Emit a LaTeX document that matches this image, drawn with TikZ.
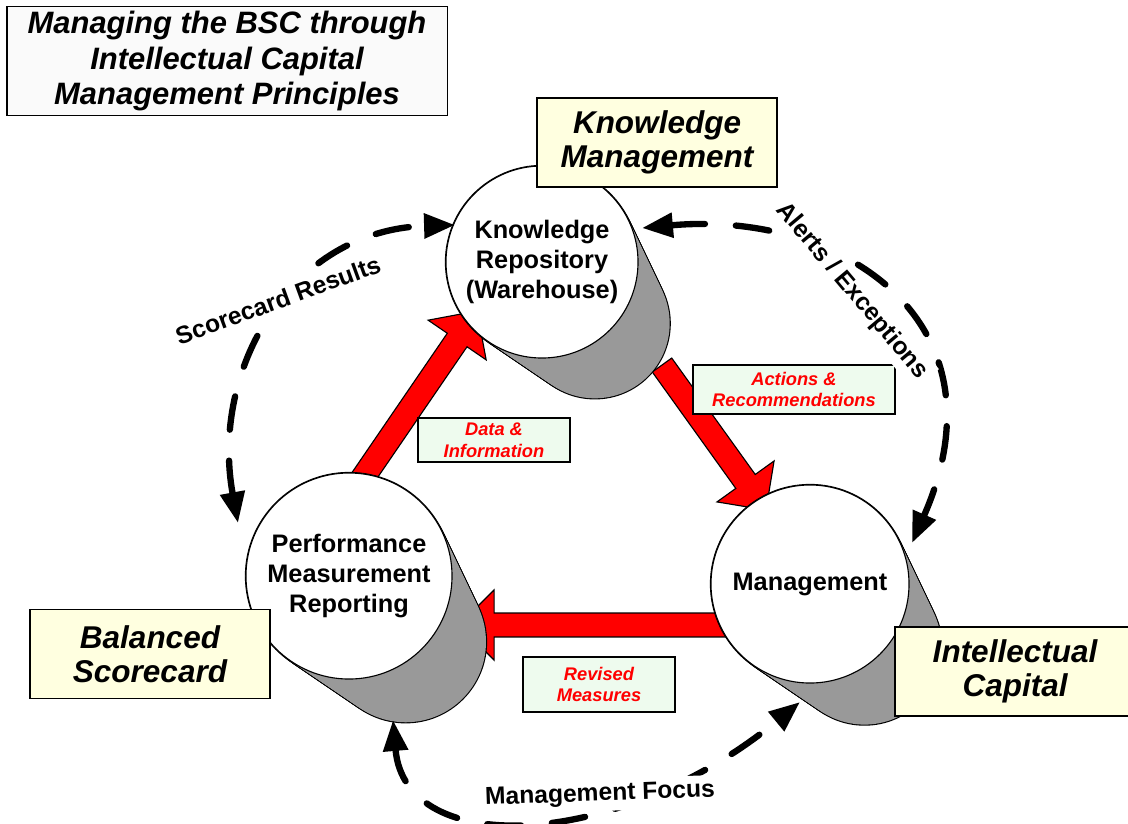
\documentclass[tikz,border=0pt]{standalone}
\usepackage{fontspec}
\setmainfont{Liberation Sans}
\usetikzlibrary{arrows.meta,calc}
\definecolor{paleyellow}{HTML}{FFFFE0}
\definecolor{palegreen}{HTML}{EEFBEE}
\definecolor{cangray}{HTML}{999999}
\newcommand{\canback}[3]{%
	\foreach \i in {0,...,24}{\draw[line width=1.6pt] ({#1+0.55*#3*\i/24},{#2+0.64*#3*\i/24}) circle ({#3*(1-0.22*\i/24)});}
	\foreach \i in {0,...,24}{\fill[cangray] ({#1+0.55*#3*\i/24},{#2+0.64*#3*\i/24}) circle ({#3*(1-0.22*\i/24)});}
}
\newcommand{\redarrow}[2]{%
	\coordinate (hb) at ($(#2)!25pt!(#1)$);
	\filldraw[fill=red,draw=black,line width=.8pt] ($(#1)!8.5pt!90:(#2)$) -- ($(hb)!8.5pt!90:(#2)$) -- ($(hb)!25pt!90:(#2)$) -- (#2) -- ($(hb)!25pt!-90:(#2)$) -- ($(hb)!8.5pt!-90:(#2)$) -- ($(#1)!8.5pt!-90:(#2)$) -- cycle;
}
\begin{document}
\begin{tikzpicture}[x=0.025cm,y=-0.025cm,>={Triangle[length=22pt,width=17pt]},
	face/.style={circle,draw,line width=.8pt,fill=white,align=center,inner sep=0pt,font=\bfseries\fontsize{18}{21.5}\selectfont},
	notebox/.style={draw,line width=.8pt,fill=paleyellow,align=center,minimum width=6cm,minimum height=2.225cm,inner sep=0pt,font=\bfseries\itshape\fontsize{22.4}{24}\selectfont},
	redlabel/.style={draw,line width=.8pt,fill=palegreen,text=red,align=center,inner sep=0pt,font=\bfseries\itshape\fontsize{13}{15.5}\selectfont},
	looparrow/.style={<->,line width=4.5pt,dash pattern=on 24pt off 22pt,line cap=round},
	arclabel/.style={fill=white,inner sep=3.5pt,font=\bfseries\fontsize{17.5}{20}\selectfont}]
	\useasboundingbox (0,0) rectangle (1128,823);
	\coordinate (da1) at (360,482);
	\coordinate (da2) at (477,311);
	\coordinate (ar1) at (662,365);
	\coordinate (ar2) at (766,510);
	\coordinate (rm1) at (730,625);
	\coordinate (rm2) at (459,625);
	\redarrow{da1}{da2}
	\redarrow{ar1}{ar2}
	\redarrow{rm1}{rm2}
	\canback{542}{262}{96}
	\canback{349}{576}{103}
	\canback{810}{584}{99}
	\node[face,minimum size=4.8cm] (kr) at (542,262) {Knowledge\\Repository\\(Warehouse)};
	\node[face,minimum size=5.15cm] (pmr) at (349,576) {Performance\\Measurement\\Reporting};
	\node[face,minimum size=4.95cm] (mgt) at (810,584) {Management};
	\node[redlabel,minimum width=3.8cm,minimum height=1.1cm] (dil) at (494,440) {Data \&\\Information};
	\node[redlabel,minimum width=5.05cm,minimum height=1.225cm] (arl) at (794,389.5) {Actions \&\\Recommendations};
	\node[redlabel,minimum width=3.8cm,minimum height=1.375cm] (rml) at (599,684.5) {Revised\\Measures};
	\coordinate (sc1) at (238,523);
	\coordinate (sc2) at (455,225);
	\coordinate (ae1) at (642,228);
	\coordinate (ae2) at (912,543);
	\coordinate (mf1) at (393,720);
	\coordinate (mf2) at (800,702);
	\draw[looparrow] (sc1) .. controls (210,370) and (290,230) .. (sc2);
	\draw[looparrow] (ae1) .. controls (840,210) and (1010,320) .. (ae2);
	\draw[looparrow] (mf1) .. controls (405,860) and (620,850) .. (mf2);
	\node[arclabel,rotate=20] (scl) at (278,300) {Scorecard Results};
	\node[arclabel,rotate=-50] (ael) at (852,291) {Alerts / Exceptions};
	\node[arclabel,rotate=2] (mfl) at (600,795) {Management Focus};
	\node[notebox] (kmb) at (657,142.5) {Knowledge\\Management};
	\node[notebox] (bsb) at (150,654) {Balanced\\Scorecard};
	\node[notebox] (icb) at (1015,671.5) {Intellectual\\Capital};
	\node[draw,line width=.8pt,fill=gray!4,minimum width=11cm,minimum height=2.7cm,align=center,font=\bfseries\itshape\fontsize{22}{24.9}\selectfont] (title) at (227,61) {Managing the BSC through\\Intellectual Capital\\Management Principles};
\end{tikzpicture}
\end{document}
